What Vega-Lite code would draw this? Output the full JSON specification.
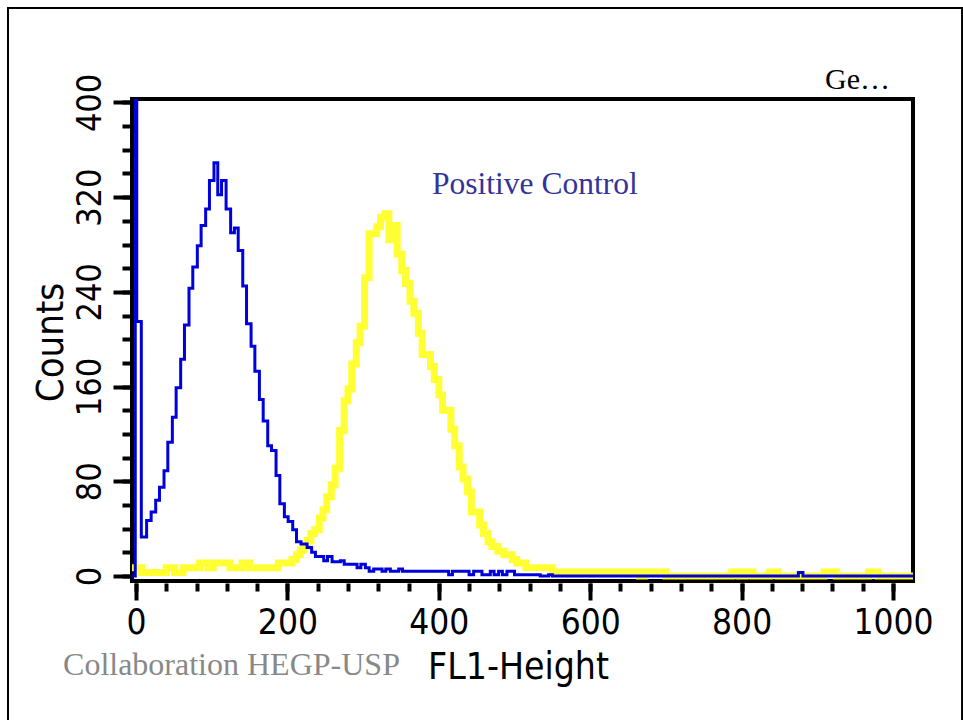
{
  "$schema": "https://vega.github.io/schema/vega-lite/v6.json",
  "width": 781,
  "height": 482,
  "autosize": {"type": "none"},
  "padding": {"left": 132, "top": 99, "right": 50, "bottom": 139},
  "background": "white",
  "config": {"view": {"stroke": "black", "strokeWidth": 4}},
  "datasets": {
    "hist": [
      {"series": "positive", "ch": -6, "count": 7},
      {"series": "positive", "ch": 7.5, "count": 3},
      {"series": "positive", "ch": 40, "count": 7},
      {"series": "positive", "ch": 51, "count": 3},
      {"series": "positive", "ch": 62, "count": 7},
      {"series": "positive", "ch": 84, "count": 11},
      {"series": "positive", "ch": 95, "count": 7},
      {"series": "positive", "ch": 102, "count": 11},
      {"series": "positive", "ch": 124, "count": 7},
      {"series": "positive", "ch": 140, "count": 11},
      {"series": "positive", "ch": 150, "count": 7},
      {"series": "positive", "ch": 188, "count": 11},
      {"series": "positive", "ch": 206, "count": 14},
      {"series": "positive", "ch": 212, "count": 18},
      {"series": "positive", "ch": 217, "count": 22},
      {"series": "positive", "ch": 222, "count": 25},
      {"series": "positive", "ch": 226, "count": 30},
      {"series": "positive", "ch": 231, "count": 36},
      {"series": "positive", "ch": 236, "count": 39},
      {"series": "positive", "ch": 242, "count": 49},
      {"series": "positive", "ch": 247, "count": 56},
      {"series": "positive", "ch": 252, "count": 67},
      {"series": "positive", "ch": 258, "count": 77},
      {"series": "positive", "ch": 263, "count": 91},
      {"series": "positive", "ch": 269, "count": 123},
      {"series": "positive", "ch": 275, "count": 148},
      {"series": "positive", "ch": 280, "count": 158},
      {"series": "positive", "ch": 285, "count": 179},
      {"series": "positive", "ch": 291, "count": 197},
      {"series": "positive", "ch": 296, "count": 211},
      {"series": "positive", "ch": 302, "count": 252},
      {"series": "positive", "ch": 308, "count": 289},
      {"series": "positive", "ch": 318, "count": 295},
      {"series": "positive", "ch": 323, "count": 303},
      {"series": "positive", "ch": 329, "count": 306},
      {"series": "positive", "ch": 334, "count": 284},
      {"series": "positive", "ch": 340, "count": 296},
      {"series": "positive", "ch": 345, "count": 272},
      {"series": "positive", "ch": 351, "count": 258},
      {"series": "positive", "ch": 356, "count": 247},
      {"series": "positive", "ch": 362, "count": 232},
      {"series": "positive", "ch": 367, "count": 222},
      {"series": "positive", "ch": 373, "count": 205},
      {"series": "positive", "ch": 378, "count": 187},
      {"series": "positive", "ch": 389, "count": 177},
      {"series": "positive", "ch": 394, "count": 166},
      {"series": "positive", "ch": 400, "count": 153},
      {"series": "positive", "ch": 405, "count": 140},
      {"series": "positive", "ch": 416, "count": 124},
      {"series": "positive", "ch": 421, "count": 110},
      {"series": "positive", "ch": 427, "count": 92},
      {"series": "positive", "ch": 432, "count": 82},
      {"series": "positive", "ch": 438, "count": 71},
      {"series": "positive", "ch": 443, "count": 54},
      {"series": "positive", "ch": 454, "count": 43},
      {"series": "positive", "ch": 459, "count": 36},
      {"series": "positive", "ch": 465, "count": 29},
      {"series": "positive", "ch": 470, "count": 25},
      {"series": "positive", "ch": 478, "count": 21},
      {"series": "positive", "ch": 486, "count": 18},
      {"series": "positive", "ch": 497, "count": 14},
      {"series": "positive", "ch": 503, "count": 11},
      {"series": "positive", "ch": 515, "count": 7},
      {"series": "positive", "ch": 550, "count": 3.4},
      {"series": "positive", "ch": 665, "count": 0},
      {"series": "positive", "ch": 672, "count": 3.4},
      {"series": "positive", "ch": 700, "count": 0},
      {"series": "positive", "ch": 787, "count": 3.4},
      {"series": "positive", "ch": 797, "count": 0},
      {"series": "positive", "ch": 805, "count": 3.4},
      {"series": "positive", "ch": 815, "count": 0},
      {"series": "positive", "ch": 837, "count": 3.4},
      {"series": "positive", "ch": 848, "count": 0},
      {"series": "positive", "ch": 909, "count": 3.4},
      {"series": "positive", "ch": 925, "count": 0},
      {"series": "positive", "ch": 968, "count": 3.4},
      {"series": "positive", "ch": 980, "count": 0},
      {"series": "positive", "ch": 1030, "count": 0},
      {"series": "control", "ch": -6, "count": 0},
      {"series": "control", "ch": -1, "count": 560},
      {"series": "control", "ch": 1, "count": 215},
      {"series": "control", "ch": 7, "count": 33},
      {"series": "control", "ch": 14, "count": 47},
      {"series": "control", "ch": 20, "count": 54},
      {"series": "control", "ch": 26, "count": 64},
      {"series": "control", "ch": 31, "count": 75},
      {"series": "control", "ch": 37, "count": 89},
      {"series": "control", "ch": 42, "count": 113},
      {"series": "control", "ch": 48, "count": 134},
      {"series": "control", "ch": 53, "count": 159},
      {"series": "control", "ch": 59, "count": 183},
      {"series": "control", "ch": 64, "count": 212},
      {"series": "control", "ch": 70, "count": 243},
      {"series": "control", "ch": 75, "count": 261},
      {"series": "control", "ch": 81, "count": 279},
      {"series": "control", "ch": 86, "count": 296},
      {"series": "control", "ch": 92, "count": 310},
      {"series": "control", "ch": 97, "count": 334},
      {"series": "control", "ch": 103, "count": 349},
      {"series": "control", "ch": 108, "count": 322},
      {"series": "control", "ch": 113, "count": 334},
      {"series": "control", "ch": 119, "count": 310},
      {"series": "control", "ch": 125, "count": 290},
      {"series": "control", "ch": 130, "count": 294},
      {"series": "control", "ch": 135, "count": 275},
      {"series": "control", "ch": 141, "count": 245},
      {"series": "control", "ch": 146, "count": 213},
      {"series": "control", "ch": 152, "count": 194},
      {"series": "control", "ch": 157, "count": 173},
      {"series": "control", "ch": 163, "count": 149},
      {"series": "control", "ch": 168, "count": 131},
      {"series": "control", "ch": 174, "count": 110},
      {"series": "control", "ch": 179, "count": 106},
      {"series": "control", "ch": 185, "count": 85},
      {"series": "control", "ch": 190, "count": 61},
      {"series": "control", "ch": 196, "count": 50},
      {"series": "control", "ch": 201, "count": 46},
      {"series": "control", "ch": 207, "count": 39},
      {"series": "control", "ch": 212, "count": 29},
      {"series": "control", "ch": 218, "count": 27},
      {"series": "control", "ch": 226, "count": 24},
      {"series": "control", "ch": 232, "count": 20},
      {"series": "control", "ch": 237, "count": 16.5},
      {"series": "control", "ch": 248, "count": 13},
      {"series": "control", "ch": 253, "count": 16.5},
      {"series": "control", "ch": 259, "count": 12},
      {"series": "control", "ch": 270, "count": 13},
      {"series": "control", "ch": 275, "count": 10},
      {"series": "control", "ch": 292, "count": 7},
      {"series": "control", "ch": 297, "count": 10},
      {"series": "control", "ch": 303, "count": 7},
      {"series": "control", "ch": 308, "count": 4},
      {"series": "control", "ch": 314, "count": 6},
      {"series": "control", "ch": 325, "count": 4},
      {"series": "control", "ch": 330, "count": 6},
      {"series": "control", "ch": 336, "count": 4},
      {"series": "control", "ch": 347, "count": 6},
      {"series": "control", "ch": 352, "count": 4},
      {"series": "control", "ch": 413, "count": 1},
      {"series": "control", "ch": 418, "count": 4},
      {"series": "control", "ch": 440, "count": 1},
      {"series": "control", "ch": 446, "count": 4},
      {"series": "control", "ch": 457, "count": 1},
      {"series": "control", "ch": 468, "count": 4},
      {"series": "control", "ch": 473, "count": 1},
      {"series": "control", "ch": 479, "count": 4},
      {"series": "control", "ch": 484, "count": 1},
      {"series": "control", "ch": 490, "count": 4},
      {"series": "control", "ch": 500, "count": 1},
      {"series": "control", "ch": 534, "count": 0},
      {"series": "control", "ch": 545, "count": 1},
      {"series": "control", "ch": 550, "count": 0},
      {"series": "control", "ch": 875, "count": 3},
      {"series": "control", "ch": 881, "count": 0},
      {"series": "control", "ch": 1030, "count": 0}
    ]
  },
  "layer": [
    {
      "data": {"values": [{}]},
      "mark": {"type": "rect", "fill": "white", "fillOpacity": 0, "stroke": "black", "strokeWidth": 2, "clip": false},
      "encoding": {
        "x": {"datum": -169.1, "type": "quantitative", "scale": {"domain": [-5.3, 1026.4], "nice": false, "zero": false}, "axis": null},
        "x2": {"datum": 1091.2},
        "y": {"datum": 479.7, "type": "quantitative", "scale": {"domain": [-4.2, 402.9], "nice": false, "zero": false}, "axis": null},
        "y2": {"datum": -125}
      }
    },
    {
      "data": {"name": "hist"},
      "transform": [{"filter": "datum.series === 'positive'"}],
      "mark": {"type": "line", "interpolate": "step-after", "color": "#ffff33", "strokeWidth": 7, "strokeCap": "butt", "strokeJoin": "miter", "clip": true},
      "encoding": {
        "x": {
          "field": "ch", "type": "quantitative",
          "scale": {"domain": [-5.3, 1026.4], "nice": false, "zero": false},
          "axis": {
            "orient": "bottom", "values": [0, 200, 400, 600, 800, 1000], "format": "d",
            "tickSize": 17, "tickWidth": 4, "tickColor": "black", "domain": false, "grid": false, "offset": 2,
            "labelFont": "DejaVu Sans Condensed, sans-serif", "labelFontSize": 35, "labelColor": "black",
            "labelPadding": 33, "labelBaseline": "alphabetic", "labelAlign": "center", "labelOverlap": false, "labelFlush": false,
            "title": "FL1-Height", "titleFont": "DejaVu Sans Condensed, sans-serif", "titleFontSize": 37,
            "titleFontWeight": "normal", "titleColor": "black", "titleX": 386, "titleY": 95, "titleAlign": "center", "titleBaseline": "alphabetic"
          }
        },
        "y": {
          "field": "count", "type": "quantitative",
          "scale": {"domain": [-4.2, 402.9], "nice": false, "zero": false},
          "axis": {
            "orient": "left", "values": [0, 80, 160, 240, 320, 400], "format": "d",
            "tickSize": 17, "tickWidth": 4, "tickColor": "black", "domain": false, "grid": false, "offset": 2,
            "labelFont": "DejaVu Sans Condensed, sans-serif", "labelFontSize": 34, "labelColor": "black",
            "labelAngle": -90, "labelPadding": 13, "labelBaseline": "alphabetic", "labelAlign": "center", "labelOverlap": false, "labelFlush": false,
            "title": "Counts", "titleFont": "DejaVu Sans Condensed, sans-serif", "titleFontSize": 38,
            "titleFontWeight": "normal", "titleColor": "black", "titleAngle": -90, "titleX": -68, "titleY": 243, "titleAlign": "center", "titleBaseline": "alphabetic"
          }
        }
      }
    },
    {
      "data": {"name": "hist"},
      "transform": [{"filter": "datum.series === 'control'"}],
      "mark": {"type": "line", "interpolate": "step-after", "color": "#0000dd", "strokeWidth": 3, "strokeCap": "butt", "strokeJoin": "miter", "clip": true},
      "encoding": {
        "x": {
          "field": "ch", "type": "quantitative",
          "scale": {"domain": [-5.3, 1026.4], "nice": false, "zero": false},
          "axis": {
            "orient": "bottom", "values": [0, 40, 80, 120, 160, 200, 240, 280, 320, 360, 400, 440, 480, 520, 560, 600, 640, 680, 720, 760, 800, 840, 880, 920, 960, 1000],
            "tickSize": 8, "tickWidth": 4, "tickColor": "black", "domain": false, "grid": false, "offset": 2, "labels": false, "title": null
          }
        },
        "y": {
          "field": "count", "type": "quantitative",
          "scale": {"domain": [-4.2, 402.9], "nice": false, "zero": false},
          "axis": {
            "orient": "left", "values": [0, 20, 40, 60, 80, 100, 120, 140, 160, 180, 200, 220, 240, 260, 280, 300, 320, 340, 360, 380, 400],
            "tickSize": 8, "tickWidth": 4, "tickColor": "black", "domain": false, "grid": false, "offset": 2, "labels": false, "title": null
          }
        }
      }
    },
    {
      "data": {"values": [{}]},
      "mark": {"type": "text", "text": "Positive Control", "align": "left", "baseline": "alphabetic", "font": "Liberation Serif", "fontSize": 31.5, "color": "#333399"},
      "encoding": {
        "x": {"datum": 391, "type": "quantitative", "scale": {"domain": [-5.3, 1026.4], "nice": false, "zero": false}, "axis": null},
        "y": {"datum": 322.4, "type": "quantitative", "scale": {"domain": [-4.2, 402.9], "nice": false, "zero": false}, "axis": null}
      }
    },
    {
      "data": {"values": [{}]},
      "mark": {"type": "text", "text": "Collaboration HEGP-USP", "align": "left", "baseline": "alphabetic", "font": "Liberation Serif", "fontSize": 32, "color": "#888888"},
      "encoding": {
        "x": {"datum": -96.4, "type": "quantitative", "scale": {"domain": [-5.3, 1026.4], "nice": false, "zero": false}, "axis": null},
        "y": {"datum": -83.6, "type": "quantitative", "scale": {"domain": [-4.2, 402.9], "nice": false, "zero": false}, "axis": null}
      }
    },
    {
      "data": {"values": [{}]},
      "mark": {"type": "text", "text": "Ge…", "align": "right", "baseline": "alphabetic", "font": "Liberation Serif", "fontSize": 30, "color": "black"},
      "encoding": {
        "x": {"datum": 996, "type": "quantitative", "scale": {"domain": [-5.3, 1026.4], "nice": false, "zero": false}, "axis": null},
        "y": {"datum": 411, "type": "quantitative", "scale": {"domain": [-4.2, 402.9], "nice": false, "zero": false}, "axis": null}
      }
    }
  ],
  "resolve": {"axis": {"x": "independent", "y": "independent"}}
}
